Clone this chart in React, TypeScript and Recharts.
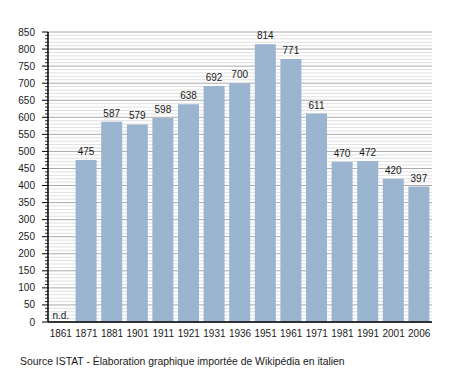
import React from 'react';
import { BarChart, Bar, XAxis, YAxis, CartesianGrid, LabelList, ReferenceDot } from 'recharts';

const years = ['1861', '1871', '1881', '1901', '1911', '1921', '1931', '1936', '1951', '1961', '1971', '1981', '1991', '2001', '2006'];
const population = [null, 475, 587, 579, 598, 638, 692, 700, 814, 771, 611, 470, 472, 420, 397];
const minorTicks = Array.from({ length: 86 }, (_, i) => i * 10);

const data = years.map((year, i) => ({ year, value: population[i] }));

const FONT = '"Liberation Sans", Arial, sans-serif';
const TEXT = '#1a1a1a';

const YTick = (props: any) => {
  const { x, y, payload } = props;
  const v = payload.value;
  const major = v % 50 === 0;
  if (!major) {
    return <line x1={x - 3} x2={x} y1={y} y2={y} stroke="#000" strokeWidth={0.8} />;
  }
  return (
    <g>
      <line x1={x - 6} x2={x} y1={y} y2={y} stroke="#000" strokeWidth={1} />
      <text x={x - 13} y={y} dy={3.5} textAnchor="end" fontSize={10} fill={TEXT} fontFamily={FONT}>
        {v}
      </text>
    </g>
  );
};

// every fifth grid line (multiples of 50) is darker
const GridLine = (props: any) => {
  const { x1, x2, y1, y2, index } = props;
  const major = index % 5 === 0;
  return <line x1={x1} x2={x2} y1={y1} y2={y2} stroke={major ? '#aaaaaa' : '#e0e0e0'} strokeWidth={1} />;
};

const App: React.FC = () => {
  return (
    <div style={{ position: 'absolute', left: 0, top: 0, width: 458, height: 373, background: '#fff' }}>
      <BarChart
        width={458}
        height={373}
        data={data}
        margin={{ top: 32, right: 26, bottom: 31, left: 0 }}
        barSize={21}
      >
        <CartesianGrid vertical={false} horizontal={(p: any) => <GridLine key={p.key ?? p.index} {...p} />} />
        <XAxis
          dataKey="year"
          height={20}
          axisLine={{ stroke: '#000', strokeWidth: 1.5 }}
          tickLine={false}
          interval={0}
          tick={{ fontSize: 10, fill: TEXT, fontFamily: FONT }}
          tickMargin={2}
        />
        <YAxis
          width={48}
          domain={[0, 850]}
          ticks={minorTicks}
          interval={0}
          tickSize={0}
          tickMargin={0}
          tickLine={false}
          axisLine={{ stroke: '#000', strokeWidth: 1.5 }}
          tick={<YTick />}
        />
        <Bar dataKey="value" fill="#9bb4cf" isAnimationActive={false}>
          <LabelList dataKey="value" position="top" offset={5} fontSize={10} fill={TEXT} fontFamily={FONT} />
        </Bar>
        <ReferenceDot
          x="1861"
          y={0}
          r={0}
          fill="none"
          stroke="none"
          label={{ value: 'n.d.', position: 'top', offset: 3, fontSize: 10, fill: TEXT, fontFamily: FONT }}
        />
      </BarChart>
      <div
        style={{
          position: 'absolute',
          left: 20,
          top: 356,
          fontSize: 10.4,
          fontFamily: FONT,
          color: TEXT,
          whiteSpace: 'nowrap',
        }}
      >
        Source ISTAT - Élaboration graphique importée de Wikipédia en italien
      </div>
    </div>
  );
};

export default App;
